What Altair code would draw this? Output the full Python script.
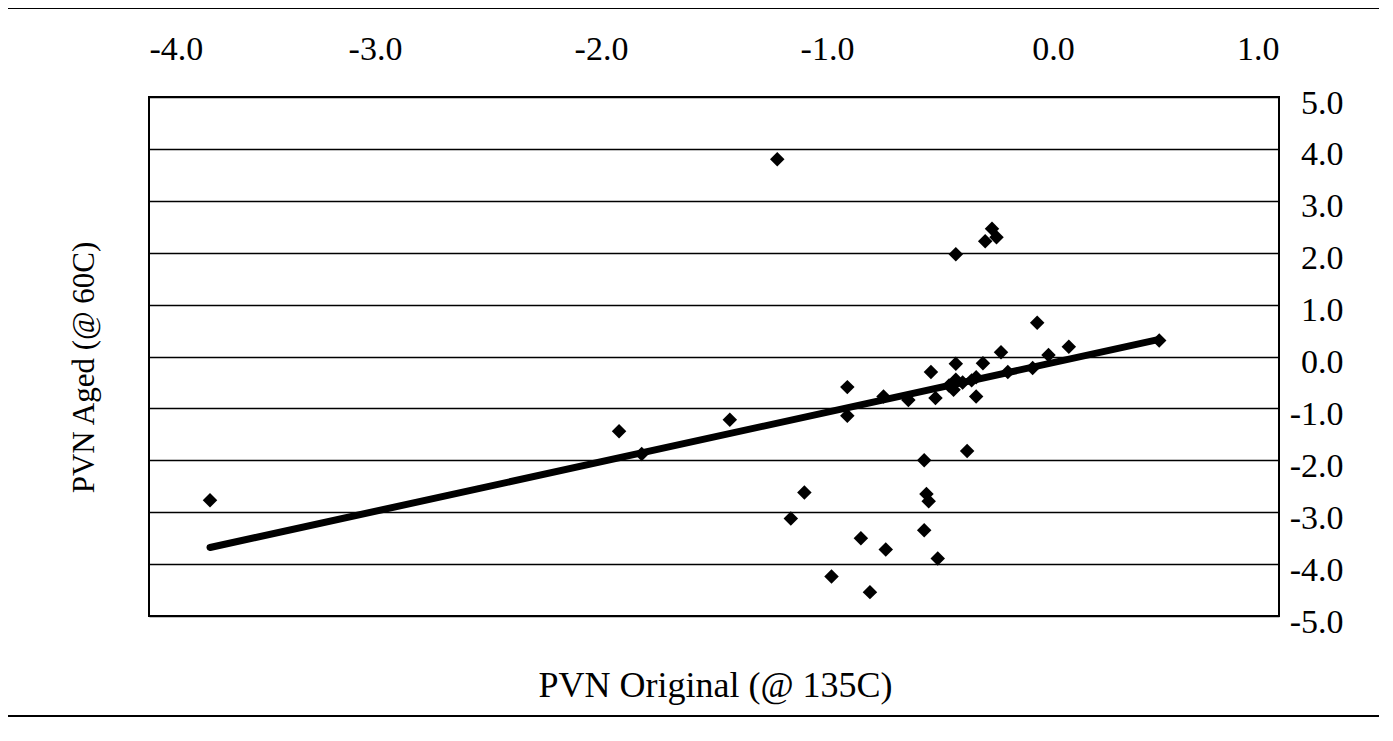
import altair as alt
import pandas as pd

# PVN values
pvn_original = [-3.73, -1.92, -1.82, -1.43, -1.22, -1.16, -1.10, -0.98, -0.91, -0.91,
                -0.85, -0.81, -0.75, -0.74, -0.64, -0.57, -0.57, -0.56, -0.55, -0.54,
                -0.52, -0.51, -0.46, -0.44, -0.43, -0.43, -0.43, -0.40, -0.38, -0.36,
                -0.34, -0.34, -0.31, -0.30, -0.27, -0.25, -0.23, -0.20, -0.09, -0.07,
                -0.02, 0.07, 0.47]
pvn_aged = [-2.77, -1.44, -1.88, -1.22, 3.80, -3.12, -2.62, -4.24, -0.59, -1.14,
            -3.50, -4.54, -0.77, -3.72, -0.84, -2.00, -3.35, -2.65, -2.79, -0.30,
            -0.80, -3.89, -0.56, -0.64, 1.97, -0.14, -0.45, -0.50, -1.82, -0.46,
            -0.40, -0.77, -0.13, 2.22, 2.46, 2.30, 0.08, -0.30, -0.22, 0.65,
            0.03, 0.19, 0.31]

# linear trend line end points
trend_x = [-3.73, 0.47]
trend_y = [-3.68, 0.33]

x_ticks = [-4.0, -3.0, -2.0, -1.0, 0.0, 1.0]
y_ticks = [-5.0, -4.0, -3.0, -2.0, -1.0, 0.0, 1.0, 2.0, 3.0, 4.0, 5.0]

FONT = "Liberation Serif"
LABEL_EXPR = "datum.value < 0 ? '-' + format(-datum.value, '.1f') : format(datum.value, '.1f')"

pts = pd.DataFrame({"x": pvn_original, "y": pvn_aged})
trend = pd.DataFrame({"x": trend_x, "y": trend_y})
one = pd.DataFrame({"k": [0]})

xscale = alt.Scale(domain=[-4, 1], nice=False, zero=False)
yscale = alt.Scale(domain=[-5, 5], nice=False, zero=False)

xaxis = alt.Axis(orient="top", values=x_ticks, labelExpr=LABEL_EXPR, grid=False, ticks=False,
                 domain=False, labelFont=FONT, labelFontSize=34, labelColor="black",
                 labelPadding=38, labelBaseline="alphabetic",
                 title="PVN Original (@ 135C)", titleFont=FONT, titleFontSize=36,
                 titleFontWeight="normal", titleColor="black", titleX=566, titleY=588,
                 titleAlign="center", titleBaseline="middle")
yaxis = alt.Axis(orient="right", values=y_ticks, labelExpr=LABEL_EXPR, grid=True,
                 gridColor="black", gridWidth=1.5, gridOpacity=1, ticks=False,
                 domain=False, labelFont=FONT, labelFontSize=34, labelColor="black",
                 labelPadding=64, labelAlign="right", labelBaseline="middle", labelOffset=6,
                 title="PVN Aged (@ 60C)", titleFont=FONT, titleFontSize=31,
                 titleFontWeight="normal", titleColor="black", titleAngle=270,
                 titleX=-1195, titleY=270, titleAlign="center", titleBaseline="middle")

points = alt.Chart(pts).mark_point(shape="diamond", filled=True, color="black",
                                   size=210, opacity=1).encode(
    x=alt.X("x:Q", scale=xscale, axis=xaxis),
    y=alt.Y("y:Q", scale=yscale, axis=yaxis),
)

line = alt.Chart(trend).mark_line(color="black", strokeWidth=7, strokeCap="round").encode(
    x=alt.X("x:Q", scale=xscale),
    y=alt.Y("y:Q", scale=yscale),
)

# plot-area frame
frame = alt.Chart(one).mark_rect(fill=None, stroke="black", strokeWidth=2).encode(
    x=alt.value(0), x2=alt.value(1130), y=alt.value(0), y2=alt.value(519))

# outer chart-area border (decoration)
top_border = alt.Chart(one).mark_rule(color="black", strokeWidth=2).encode(
    x=alt.value(-144), x2=alt.value(1244), y=alt.value(-89))
bottom_border = alt.Chart(one).mark_rule(color="black", strokeWidth=2).encode(
    x=alt.value(-144), x2=alt.value(1244), y=alt.value(619))
left_border = alt.Chart(one).mark_rule(color="#555", strokeWidth=1, strokeDash=[3, 5]).encode(
    x=alt.value(-144), y=alt.value(-89), y2=alt.value(619))
right_border = alt.Chart(one).mark_rule(color="#555", strokeWidth=1, strokeDash=[3, 5]).encode(
    x=alt.value(1241), y=alt.value(-89), y2=alt.value(619))

chart = alt.layer(frame, line, points, top_border, bottom_border, left_border, right_border).properties(
    width=1130, height=519,
    autosize=alt.AutoSizeParams(type="none"),
    padding={"left": 141, "top": 89, "right": 100, "bottom": 110},
    background="white",
).configure_view(stroke="black", strokeWidth=2, fill="white")

chart.save("out.html", embed_options={"renderer": "svg", "actions": False})
